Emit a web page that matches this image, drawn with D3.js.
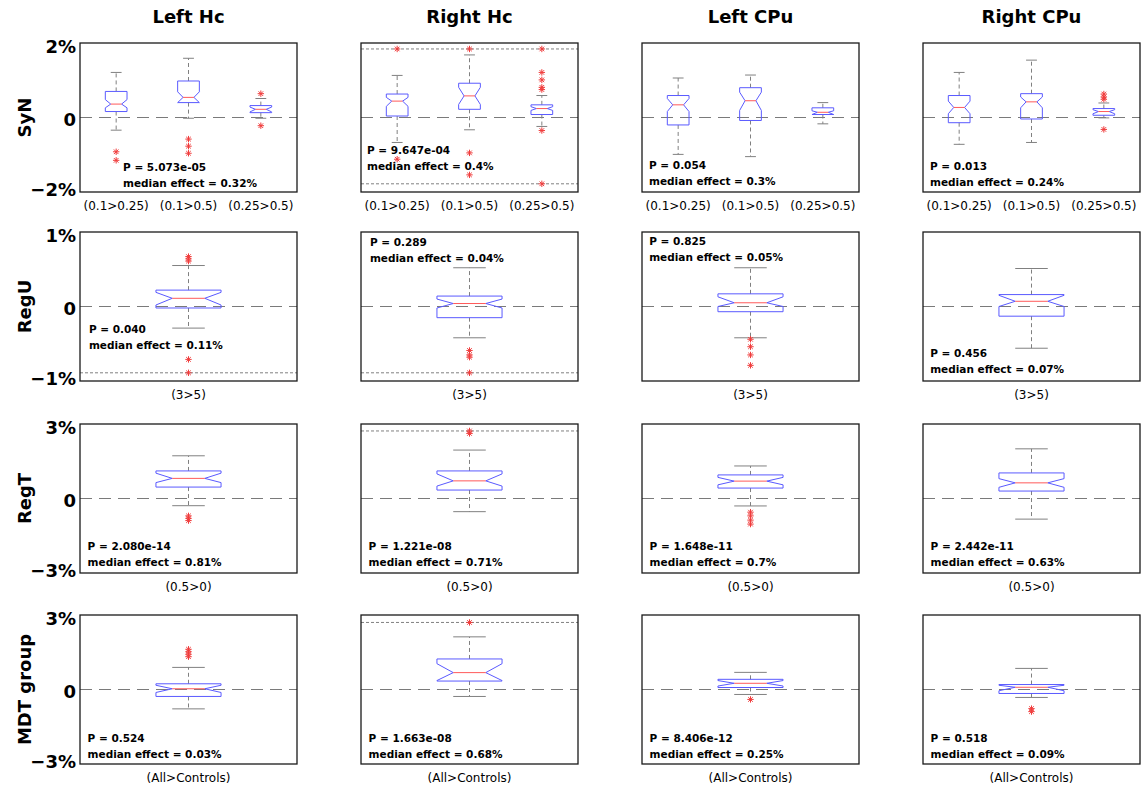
<!DOCTYPE html>
<html>
<head>
<meta charset="utf-8">
<script src="https://cdn.jsdelivr.net/npm/d3@7"></script>
<style>
  body { margin: 0; background: #fff; }
  svg { display: block; }
</style>
</head>
<body>
<svg id="fig" width="1144" height="788"></svg>
<script>
// Registration error effects (%) per method (rows) and region (columns)
const regions = ["Left Hc", "Right Hc", "Left CPu", "Right CPu"];
const methods = ["SyN", "RegU", "RegT", "MDT group"];
const comparisons = [
  ["(0.1>0.25)", "(0.1>0.5)", "(0.25>0.5)"],
  ["(3>5)"],
  ["(0.5>0)"],
  ["(All>Controls)"]
];
const axisLimits = [2, 1, 3, 3];
const tickLabels = [
  ["\u22122%", "0", "2%"],
  ["\u22121%", "0", "1%"],
  ["\u22123%", "0", "3%"],
  ["\u22123%", "0", "3%"]
];

// Box stats: [lower whisker, q1, notch low, median, notch high, q3, upper whisker]
const synBoxes = [
  [[-0.34, 0.16, 0.26, 0.36, 0.48, 0.70, 1.21], [-0.02, 0.40, 0.40, 0.54, 0.69, 0.98, 1.59], [-0.02, 0.13, 0.15, 0.22, 0.28, 0.32, 0.51]],
  [[-0.67, 0.04, 0.30, 0.44, 0.54, 0.63, 1.13], [-0.33, 0.22, 0.35, 0.58, 0.81, 0.92, 1.68], [-0.24, 0.08, 0.19, 0.24, 0.29, 0.34, 0.59]],
  [[-0.99, -0.20, 0.16, 0.34, 0.51, 0.59, 1.06], [-1.05, -0.08, 0.19, 0.45, 0.68, 0.80, 1.14], [-0.17, 0.08, 0.08, 0.14, 0.18, 0.26, 0.40]],
  [[-0.72, -0.14, 0.10, 0.27, 0.44, 0.59, 1.21], [-0.67, -0.04, 0.26, 0.42, 0.55, 0.64, 1.54], [-0.01, 0.06, 0.10, 0.16, 0.21, 0.24, 0.39]]
];
const reguBoxes = [
  [[-0.29, -0.02, 0.02, 0.11, 0.19, 0.22, 0.55]],
  [[-0.42, -0.15, -0.02, 0.04, 0.10, 0.14, 0.52]],
  [[-0.42, -0.07, 0.00, 0.05, 0.13, 0.17, 0.52]],
  [[-0.56, -0.13, 0.00, 0.07, 0.15, 0.16, 0.51]]
];
const regtBoxes = [
  [[-0.29, 0.46, 0.64, 0.81, 1.02, 1.11, 1.72]],
  [[-0.53, 0.34, 0.50, 0.71, 0.99, 1.11, 1.95]],
  [[-0.30, 0.42, 0.55, 0.70, 0.85, 0.95, 1.31]],
  [[-0.83, 0.30, 0.45, 0.63, 0.80, 1.03, 2.00]]
];
const mdtBoxes = [
  [[-0.78, -0.28, -0.12, 0.03, 0.17, 0.23, 0.89]],
  [[-0.28, 0.34, 0.36, 0.68, 1.04, 1.23, 2.12]],
  [[-0.20, 0.08, 0.14, 0.25, 0.36, 0.41, 0.69]],
  [[-0.32, -0.16, -0.05, 0.09, 0.17, 0.20, 0.85]]
];

// Outlying values per box
const synOutliers = [
  [[-0.92, -1.15], [-0.58, -0.77, -0.96], [0.64, -0.22]],
  [[1.84, -1.12], [1.84, -0.95, -1.54], [1.84, 1.21, 1.01, 0.81, 0.75, -0.35, -1.78]],
  [[], [], []],
  [[], [], [0.63, 0.55, 0.49, -0.32]]
];
const reguOutliers = [
  [[0.67, 0.64, 0.61, -0.71, -0.89]],
  [[-0.59, -0.65, -0.68, -0.89]],
  [[-0.44, -0.54, -0.65, -0.79]],
  [[]]
];
const regtOutliers = [
  [[-0.70, -0.80, -0.89]],
  [[2.72, 2.62]],
  [[-0.55, -0.70, -0.87, -1.03]],
  [[]]
];
const mdtOutliers = [
  [[1.62, 1.52, 1.42, 1.32]],
  [[2.70]],
  [[-0.40]],
  [[-0.77, -0.89]]
];

// Data limits (clipping lines) where extreme values were clipped
const synLimits = [[], [-1.78, 1.84], [], []];
const reguLimits = [[-0.89], [-0.89], [], []];
const regtLimits = [[], [2.72], [], []];
const mdtLimits = [[], [2.70], [], []];

// Statistics text
const pValues = [
  ["5.073e-05", "9.647e-04", "0.054", "0.013"],
  ["0.040", "0.289", "0.825", "0.456"],
  ["2.080e-14", "1.221e-08", "1.648e-11", "2.442e-11"],
  ["0.524", "1.663e-08", "8.406e-12", "0.518"]
];
const medianEffects = [
  ["0.32", "0.4", "0.3", "0.24"],
  ["0.11", "0.04", "0.05", "0.07"],
  ["0.81", "0.71", "0.7", "0.63"],
  ["0.03", "0.68", "0.25", "0.09"]
];
// Text anchor (x in group units, y in %) for the statistics text
const noteAnchors = [
  [[1.095, -1.33], [0.583, -0.87], [0.597, -1.28], [0.597, -1.30]],
  [[0.541, -0.30], [0.541, 0.86], [0.533, 0.87], [0.533, -0.63]],
  [[0.535, -1.94], [0.535, -1.94], [0.535, -1.94], [0.535, -1.94]],
  [[0.535, -1.95], [0.535, -1.95], [0.535, -1.95], [0.535, -1.95]]
];

const allBoxes = [synBoxes, reguBoxes, regtBoxes, mdtBoxes];
const allOutliers = [synOutliers, reguOutliers, regtOutliers, mdtOutliers];
const allLimits = [synLimits, reguLimits, regtLimits, mdtLimits];

// Layout
const panelLeft = [80, 361, 642, 923];
const panelTop = [43, 232, 424, 615];
const panelW = 217, panelH = 149;
const boxWidth = 0.3;

const svg = d3.select("#fig");
const FONT = "'DejaVu Sans', sans-serif";

const starPath = "M-3.2,0H3.2M0,-3.2V3.2M-2.3,-2.3L2.3,2.3M-2.3,2.3L2.3,-2.3";

// Column titles
regions.forEach((name, c) => {
  svg.append("text")
    .attr("x", panelLeft[c] + panelW / 2)
    .attr("y", 23)
    .attr("text-anchor", "middle")
    .style("font-family", FONT)
    .style("font-weight", "bold")
    .style("font-size", "18px")
    .text(name);
});

methods.forEach((method, r) => {
  const lim = axisLimits[r];
  const y = d3.scaleLinear().domain([-lim, lim]).range([panelH, 0]);
  const nGroups = comparisons[r].length;

  // Row label
  svg.append("text")
    .attr("transform", `translate(31,${panelTop[r] + panelH / 2}) rotate(-90)`)
    .attr("text-anchor", "middle")
    .style("font-family", FONT)
    .style("font-weight", "bold")
    .style("font-size", "18px")
    .text(method);

  // Y tick labels on the first column
  const yAxis = d3.axisLeft(y).tickValues([-lim, 0, lim])
    .tickFormat((d, i) => tickLabels[r][i]).tickSize(0).tickPadding(4);
  const ax = svg.append("g")
    .attr("transform", `translate(${panelLeft[0]},${panelTop[r]})`)
    .call(yAxis);
  ax.select(".domain").remove();
  ax.selectAll("text")
    .style("font-family", FONT)
    .style("font-weight", "bold")
    .style("font-size", "18px")
    .attr("fill", "#000")
    .attr("dy", (d) => d === lim ? "0.55em" : (d === -lim ? "0.2em" : "0.45em"));

  regions.forEach((region, c) => {
    const x = d3.scaleLinear().domain([0.5, nGroups + 0.5]).range([0, panelW]);
    const g = svg.append("g").attr("transform", `translate(${panelLeft[c]},${panelTop[r]})`);

    const clipId = `clip-${r}-${c}`;
    g.append("clipPath").attr("id", clipId)
      .append("rect").attr("width", panelW).attr("height", panelH);
    const plot = g.append("g").attr("clip-path", `url(#${clipId})`);

    // Zero reference line
    plot.append("line")
      .attr("x1", 0).attr("x2", panelW)
      .attr("y1", y(0)).attr("y2", y(0))
      .attr("stroke", "#7a7a7a").attr("stroke-width", 1)
      .attr("stroke-dasharray", "12,7");

    // Clipping limit lines
    allLimits[r][c].forEach(v => {
      plot.append("line")
        .attr("x1", 0).attr("x2", panelW)
        .attr("y1", y(v)).attr("y2", y(v))
        .attr("stroke", "#808080").attr("stroke-width", 1)
        .attr("stroke-dasharray", "3,2");
    });

    allBoxes[r][c].forEach((s, i) => {
      const pos = i + 1;
      const [lo, q1, nlo, med, nhi, q3, hi] = s;
      const x0 = x(pos - boxWidth / 2), x1 = x(pos + boxWidth / 2), xc = x(pos);
      const inset = (x1 - x0) / 4;
      const capHalf = (x1 - x0) / 4;

      // Whiskers
      [[q3, hi], [q1, lo]].forEach(([a, b]) => {
        plot.append("line")
          .attr("x1", xc).attr("x2", xc)
          .attr("y1", y(a)).attr("y2", y(b))
          .attr("stroke", "#808080").attr("stroke-width", 1)
          .attr("stroke-dasharray", "4,3");
        plot.append("line")
          .attr("x1", xc - capHalf).attr("x2", xc + capHalf)
          .attr("y1", y(b)).attr("y2", y(b))
          .attr("stroke", "#808080").attr("stroke-width", 1);
      });

      // Notched box
      const pts = [
        [x0, y(q1)], [x0, y(nlo)], [x0 + inset, y(med)], [x0, y(nhi)], [x0, y(q3)],
        [x1, y(q3)], [x1, y(nhi)], [x1 - inset, y(med)], [x1, y(nlo)], [x1, y(q1)]
      ];
      plot.append("path")
        .attr("d", d3.line()(pts) + "Z")
        .attr("fill", "none")
        .attr("stroke", "#5a5aff").attr("stroke-width", 1);

      // Median
      plot.append("line")
        .attr("x1", x0 + inset).attr("x2", x1 - inset)
        .attr("y1", y(med)).attr("y2", y(med))
        .attr("stroke", "#ff5a5a").attr("stroke-width", 1);

      // Outliers
      allOutliers[r][c][i].forEach(v => {
        plot.append("path")
          .attr("d", starPath)
          .attr("transform", `translate(${xc},${y(v)})`)
          .attr("fill", "none")
          .attr("stroke", "#f03c3c").attr("stroke-width", 1);
      });
    });

    // Frame
    g.append("rect")
      .attr("width", panelW).attr("height", panelH)
      .attr("fill", "none").attr("stroke", "#1a1a1a").attr("stroke-width", 1.3);

    // Category labels
    comparisons[r].forEach((lab, i) => {
      g.append("text")
        .attr("x", x(i + 1))
        .attr("y", panelH + 18)
        .attr("text-anchor", "middle")
        .style("font-family", FONT)
        .style("font-size", "12px")
        .text(lab);
    });

    // Statistics text
    const [ax0, ay0] = noteAnchors[r][c];
    const note = g.append("text")
      .attr("x", x(ax0))
      .attr("y", y(ay0))
      .attr("dy", "0.35em")
      .style("font-family", FONT)
      .style("font-weight", "bold")
      .style("font-size", "10.5px");
    note.append("tspan").attr("x", x(ax0)).text(`P = ${pValues[r][c]}`);
    note.append("tspan").attr("x", x(ax0)).attr("dy", "16")
      .text(`median effect = ${medianEffects[r][c]}%`);
  });
});
</script>
</body>
</html>
